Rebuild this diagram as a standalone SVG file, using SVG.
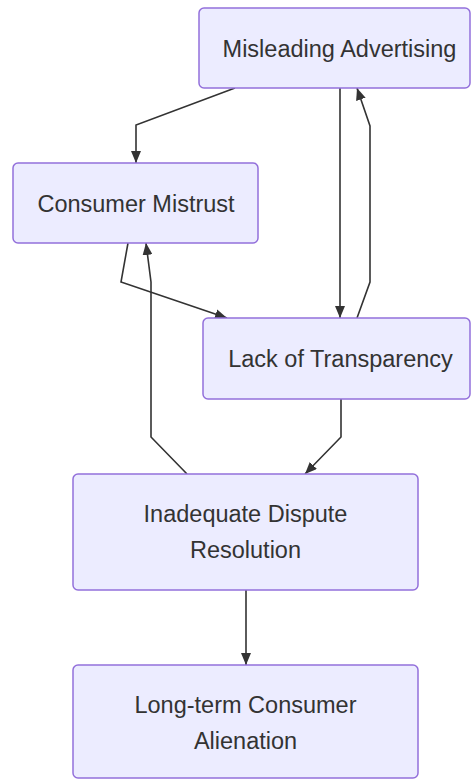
<svg xmlns="http://www.w3.org/2000/svg" width="472" height="780" viewBox="0 0 472 780">
<defs>
<style>
.node rect{fill:#ECECFF;stroke:#9370DB;stroke-width:1.5}
.node text{font-family:"Liberation Sans",Arial,sans-serif;font-size:23.5px;fill:#333;text-anchor:middle}
.edges path{fill:none;stroke:#333;stroke-width:1.6}
</style>
<marker id="ah" viewBox="0 0 12 10" refX="12" refY="5" markerWidth="12" markerHeight="10" markerUnits="userSpaceOnUse" orient="auto">
<path d="M0,0 L12,5 L0,10 z" fill="#333"/>
</marker>
</defs>
<rect width="472" height="780" fill="#fff"/>
<g class="edges">
<path d="M235,88 L136,125 L136,163" marker-end="url(#ah)"/>
<path d="M340,88 L340,318" marker-end="url(#ah)"/>
<path d="M357,318 L370,282 L370,126 L357,88" marker-end="url(#ah)"/>
<path d="M128,243 L121,282 L227,318" marker-end="url(#ah)"/>
<path d="M187,474 L151,437 L151,282 L146,243" marker-end="url(#ah)"/>
<path d="M341,399 L341,437 L305,474" marker-end="url(#ah)"/>
<path d="M246,590 L246,665" marker-end="url(#ah)"/>
</g>
<g id="misleading" class="node"><rect x="199" y="8" width="271" height="80" rx="5"/><text x="339.5" y="56.5">Misleading Advertising</text></g>
<g id="mistrust" class="node"><rect x="13" y="163" width="245" height="80" rx="5"/><text x="136" y="212">Consumer Mistrust</text></g>
<g id="transparency" class="node"><rect x="203" y="318" width="267" height="81" rx="5"/><text x="340.5" y="367">Lack of Transparency</text></g>
<g id="dispute" class="node"><rect x="73" y="474" width="345" height="116" rx="5"/><text x="245.5" y="522">Inadequate Dispute</text><text x="245.5" y="558">Resolution</text></g>
<g id="alienation" class="node"><rect x="73" y="665" width="345" height="113" rx="5"/><text x="245.5" y="713">Long-term Consumer</text><text x="245.5" y="749">Alienation</text></g>
</svg>
